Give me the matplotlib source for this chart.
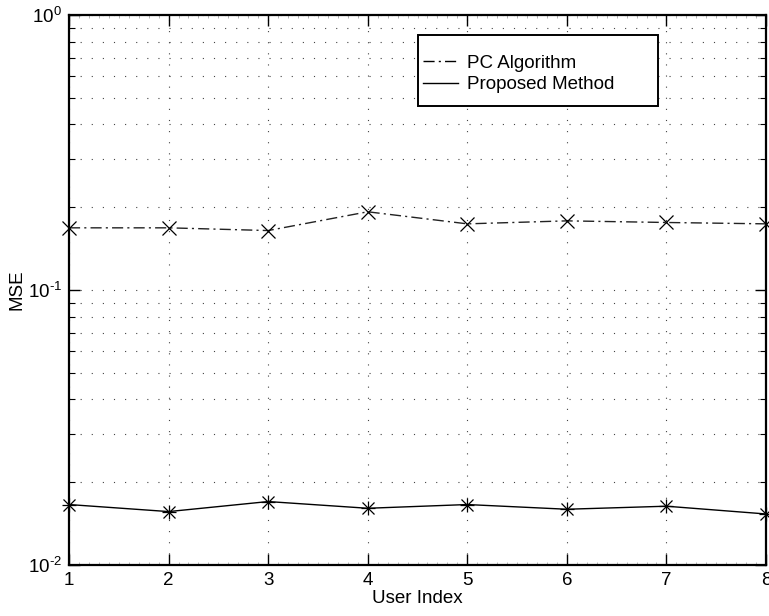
import matplotlib
matplotlib.use("Agg")
import matplotlib.pyplot as plt
from matplotlib.lines import Line2D
from matplotlib.patches import Rectangle
from matplotlib.ticker import LogLocator, NullFormatter, MultipleLocator, FuncFormatter
import math

plt.rcParams['font.family'] = ['Liberation Sans', 'DejaVu Sans']
plt.rcParams['mathtext.fontset'] = 'custom'
plt.rcParams['mathtext.rm'] = 'Liberation Sans'

user_index = [1, 2, 3, 4, 5, 6, 7, 8]
pc_algorithm = [0.1683, 0.1683, 0.1645, 0.1925, 0.1740, 0.1784, 0.1760, 0.1740]
proposed_method = [0.01659, 0.01564, 0.01701, 0.01608, 0.01659, 0.01595, 0.01636, 0.01533]
series_labels = ["PC Algorithm", "Proposed Method"]

W, H = 769, 616
fig = plt.figure(figsize=(W / 100, H / 100), dpi=100)
L, R, T, B = 69, 766, 15, 565
ax = fig.add_axes([L / W, (H - B) / H, (R - L) / W, (B - T) / H])

pc_style = (0, (8, 3, 1.5, 3))
ax.plot(user_index, pc_algorithm, color='#222222', linestyle=pc_style, linewidth=1.0,
        marker='x', markersize=10, markeredgewidth=0.9, markeredgecolor='black',
        clip_on=False, zorder=3)
ax.plot(user_index, proposed_method, color='black', linestyle='-', linewidth=1.0,
        clip_on=False, zorder=3)
# asterisk-like marker: plus + cross overlay
ax.plot(user_index, proposed_method, linestyle='none', color='black',
        marker='+', markersize=10, markeredgewidth=0.9, clip_on=False, zorder=3)
ax.plot(user_index, proposed_method, linestyle='none', color='black',
        marker='x', markersize=8, markeredgewidth=0.9, clip_on=False, zorder=3)

ax.set_yscale('log')
ax.set_xlim(1, 8)
ax.set_ylim(1e-2, 1e0)
ax.xaxis.set_major_locator(MultipleLocator(1))
ax.xaxis.set_minor_locator(MultipleLocator(0.1))
ax.yaxis.set_major_locator(LogLocator(base=10))
ax.yaxis.set_minor_locator(LogLocator(base=10, subs=range(2, 10)))
ax.yaxis.set_minor_formatter(NullFormatter())


def log_fmt(v, pos):
    e = int(round(math.log10(v)))
    if e < 0:
        return r'$\mathregular{10^{\text{-}%d}}$' % (-e)
    return r'$\mathregular{10^{%d}}$' % e


ax.yaxis.set_major_formatter(FuncFormatter(log_fmt))

grid_style = dict(color='#444444', linestyle=(0, (1, 9)), linewidth=0.8)
ax.grid(True, which='major', axis='both', **grid_style)
ax.grid(True, which='minor', axis='y', **grid_style)

for s in ax.spines.values():
    s.set_linewidth(1.6)

ax.tick_params(which='both', direction='in', top=True, right=True, labelsize=13.5, pad=5)
ax.tick_params(which='major', length=8, width=1)
ax.tick_params(axis='y', which='minor', length=4, width=0.8)
ax.tick_params(axis='x', which='minor', length=2, width=0.5, color='#999999')

ax.set_xlabel("User Index", fontsize=13.5, labelpad=1)
ax.set_ylabel("MSE", fontsize=13.5, labelpad=2)

# legend box
box = Rectangle((418, H - 106), 658 - 418, 106 - 35, transform=None, fill=True,
                facecolor='white', edgecolor='black', linewidth=1.4, zorder=5)
fig.patches.append(box)

handles = [Line2D([], [], color='black', linestyle=pc_style, linewidth=1.0),
           Line2D([], [], color='black', linestyle='-', linewidth=1.0)]
leg = fig.legend(handles, series_labels, loc='center left',
                 bbox_to_anchor=(423 / W, (H - 74) / H),
                 fontsize=13.5, frameon=False,
                 handlelength=1.87, handletextpad=0.48, borderpad=0, labelspacing=0.25,
                 borderaxespad=0)
leg.set_zorder(6)

fig.savefig("out.png", dpi=100, facecolor='white')
